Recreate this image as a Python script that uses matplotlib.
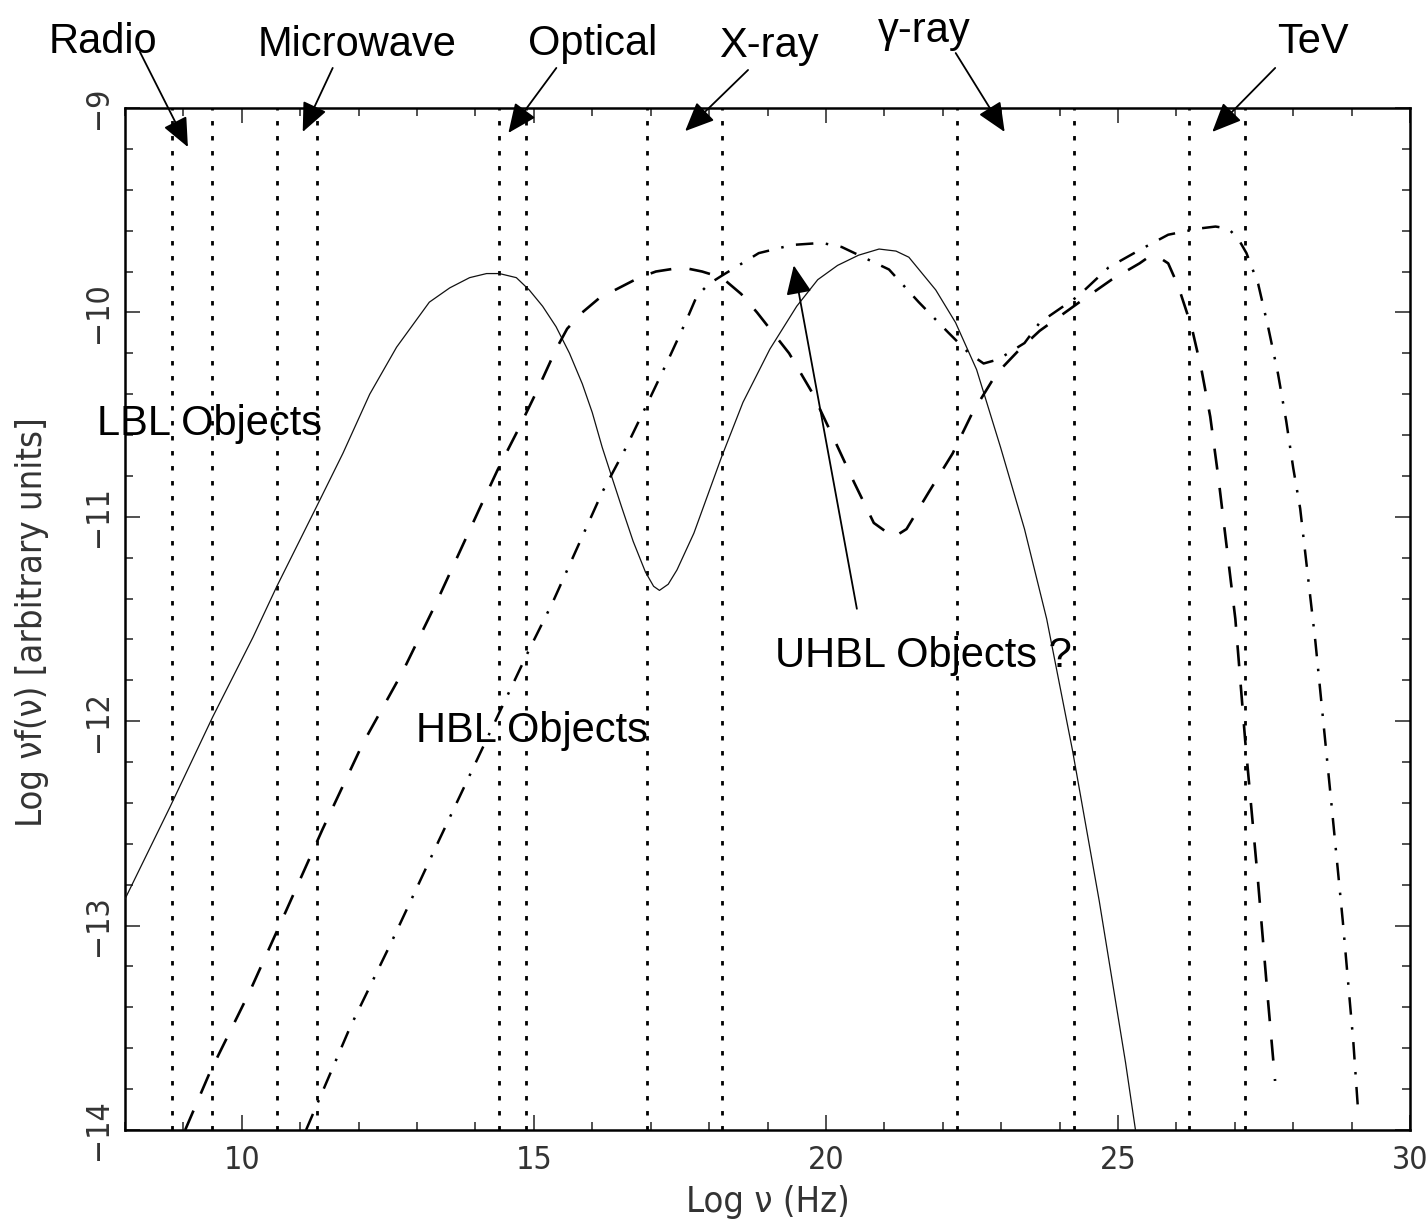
import matplotlib
matplotlib.use('Agg')
import matplotlib.pyplot as plt
from matplotlib.ticker import MultipleLocator

# ---------------- data ----------------
# LBL model (solid)
lbl_x = [8.0, 8.77, 9.50, 10.19, 10.60, 11.28, 11.73, 12.19, 12.65, 13.21, 13.56,
         13.90, 14.19, 14.41, 14.70, 14.92, 15.15, 15.38, 15.61, 15.83, 16.00,
         16.17, 16.34, 16.50, 16.70, 16.91, 17.05, 17.15, 17.30, 17.45, 17.74,
         18.21, 18.58, 19.04, 19.50, 19.86, 20.20, 20.56, 20.91, 21.20, 21.42,
         21.88, 22.22, 22.58, 22.99, 23.40, 23.78, 24.22, 24.68, 25.13, 25.30]
lbl_y = [-12.87, -12.42, -11.98, -11.59, -11.34, -10.95, -10.69, -10.40, -10.17, -9.95, -9.88,
         -9.83, -9.81, -9.81, -9.83, -9.89, -9.97, -10.07, -10.20, -10.35, -10.49,
         -10.66, -10.81, -10.95, -11.12, -11.27, -11.34, -11.36, -11.33, -11.26, -11.08,
         -10.71, -10.44, -10.18, -9.97, -9.84, -9.77, -9.72, -9.69, -9.70, -9.73,
         -9.89, -10.05, -10.28, -10.66, -11.06, -11.50, -12.14, -12.88, -13.67, -14.0]

# HBL model (dashed)
hbl_x = [9.03, 9.45, 10.14, 10.77, 11.38, 12.07, 12.75, 13.33, 14.07, 14.38, 14.72,
         15.06, 15.38, 15.57, 15.83, 16.12, 16.46, 16.80, 17.09, 17.54, 17.88,
         18.22, 18.55, 18.82, 19.37, 19.76, 20.14, 20.48, 20.82, 21.16, 21.38,
         21.76, 22.17, 22.51, 22.92, 23.32, 23.66, 24.34, 24.89, 25.37, 25.52,
         25.70, 25.86, 26.03, 26.26, 26.43, 26.58, 26.72, 27.01, 27.18, 27.40,
         27.57, 27.69]
hbl_y = [-14.0, -13.72, -13.32, -12.92, -12.53, -12.11, -11.76, -11.42, -10.96, -10.77, -10.58,
         -10.38, -10.18, -10.08, -10.00, -9.93, -9.88, -9.83, -9.80, -9.78, -9.80,
         -9.83, -9.91, -10.00, -10.20, -10.39, -10.62, -10.83, -11.03, -11.10, -11.06,
         -10.88, -10.69, -10.49, -10.30, -10.18, -10.09, -9.95, -9.84, -9.76, -9.73,
         -9.73, -9.76, -9.87, -10.07, -10.28, -10.51, -10.81, -11.50, -12.10, -12.79,
         -13.37, -13.76]

# UHBL model (dash-dot)
uhbl_x = [11.10, 11.85, 12.58, 13.38, 14.19, 14.92, 15.32, 16.17, 16.58, 16.97, 17.32,
          17.61, 17.79, 18.00, 18.22, 18.68, 18.85, 19.42, 19.93, 20.27, 21.08,
          21.59, 22.10, 22.45, 22.70, 22.95, 23.40, 23.66, 24.32, 24.84, 25.40,
          25.86, 26.38, 26.67, 26.89, 27.06, 27.20, 27.40, 27.57, 27.74, 27.88,
          28.00, 28.12, 28.38, 28.65, 28.85, 29.03, 29.11]
uhbl_y = [-14.0, -13.50, -13.07, -12.58, -12.09, -11.65, -11.42, -10.88, -10.66, -10.43, -10.22,
          -10.04, -9.92, -9.86, -9.82, -9.74, -9.71, -9.67, -9.66, -9.68, -9.79,
          -9.95, -10.10, -10.20, -10.25, -10.23, -10.15, -10.05, -9.92, -9.78, -9.69,
          -9.62, -9.59, -9.58, -9.59, -9.64, -9.71, -9.86, -10.07, -10.30, -10.53,
          -10.76, -10.96, -11.61, -12.39, -12.98, -13.57, -13.90]

# band edges (Log nu) for the wavebands
band_edges = [8.80, 9.49, 10.60, 11.28, 14.41, 14.87, 16.94, 18.22,
              22.24, 24.24, 26.21, 27.18]

band_names = ['Radio', 'Microwave', 'Optical', 'X-ray', 'γ-ray', 'TeV']

# ---------------- figure ----------------
W, H = 1427, 1231
fig = plt.figure(figsize=(W / 100, H / 100), dpi=100)
ax = fig.add_axes([125 / W, 101 / H, 1285 / W, 1022 / H])

ax.set_xlim(8, 30)
ax.set_ylim(-14, -9)

for xe in band_edges:
    ax.axvline(xe, color='black', lw=2.0, linestyle=(0, (1.6, 3.8)), zorder=1)

ax.plot(lbl_x, lbl_y, color='#111111', lw=0.9, zorder=3)
ax.plot(hbl_x, hbl_y, color='black', lw=1.9, linestyle=(0, (8.0, 7.0)), zorder=3)
ax.plot(uhbl_x, uhbl_y, color='black', lw=1.8, linestyle=(0, (7.0, 5.0, 1.0, 5.0)), zorder=3)

# axes styling
ax.xaxis.set_major_locator(MultipleLocator(5))
ax.xaxis.set_minor_locator(MultipleLocator(1))
ax.yaxis.set_major_locator(MultipleLocator(1))
ax.yaxis.set_minor_locator(MultipleLocator(0.2))
ax.tick_params(which='both', direction='in', top=True, right=True, width=1.1, color='#222222')
ax.tick_params(which='major', length=11)
ax.tick_params(which='minor', length=6)
for s in ax.spines.values():
    s.set_linewidth(1.8)

tick_font = dict(family='DejaVu Sans', stretch='condensed', size=23, color='#333333')
ax.set_xticks([10, 15, 20, 25, 30])
ax.set_xticklabels(['10', '15', '20', '25', '30'], fontdict=tick_font)
ax.set_yticks([-14, -13, -12, -11, -10, -9])
ax.set_yticklabels(['−14', '−13', '−12', '−11', '−10', '−9'], fontdict=tick_font,
                   rotation=90, va='center')
ax.tick_params(axis='x', which='major', pad=11)
ax.tick_params(axis='y', which='major', pad=8)

label_font = dict(family='DejaVu Sans', stretch='condensed', size=26, color='#333333')
ax.set_xlabel('Log ν (Hz)', fontdict=label_font)
ax.set_ylabel('Log νf(ν) [arbitrary units]', fontdict=label_font)
ax.xaxis.set_label_coords(0.5004, -0.054)
ax.yaxis.set_label_coords(-0.059, 0.497)

# ---------------- annotations ----------------
ann_font = dict(family=['Liberation Sans', 'DejaVu Sans'], size=30, color='black')
arrow_kw = dict(arrowstyle='-|>,head_length=0.5,head_width=0.22', mutation_scale=36,
                color='black', lw=1.3, shrinkA=0, shrinkB=0)

label_pos = [(7.624, -8.731), (11.966, -8.746), (16.0, -8.741),
             (19.026, -8.750), (21.675, -8.677), (28.342, -8.731)]
arrow_tails = [(8.256, -8.726), (11.556, -8.804), (15.385, -8.804),
               (18.667, -8.814), (22.222, -8.731), (27.692, -8.804)]
arrow_tips = [(9.077, -9.191), (11.043, -9.117), (14.564, -9.122),
              (17.590, -9.113), (23.06, -9.117), (26.615, -9.117)]

for name, (tx, ty), tail, tip in zip(band_names, label_pos, arrow_tails, arrow_tips):
    ax.text(tx, ty, name, ha='center', va='baseline', clip_on=False, fontdict=ann_font)
    ax.annotate('', xy=tip, xytext=tail, arrowprops=arrow_kw, annotation_clip=False)

ax.text(7.52, -10.60, 'LBL Objects', ha='left', va='baseline', clip_on=False,
        fontdict=ann_font, zorder=5)
ax.text(12.99, -12.10, 'HBL Objects', ha='left', va='baseline', clip_on=False,
        fontdict=ann_font, zorder=5)
ax.text(19.13, -11.735, 'UHBL Objects ?', ha='left', va='baseline', clip_on=False,
        fontdict=ann_font, zorder=5)
ax.annotate('', xy=(19.45, -9.77), xytext=(20.53, -11.45), arrowprops=arrow_kw,
            annotation_clip=False)

fig.savefig('out.png', dpi=100)
